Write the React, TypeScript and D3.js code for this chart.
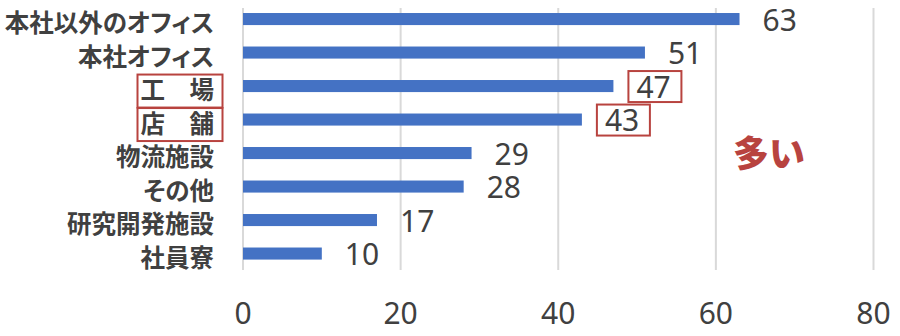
import React from "react";
import * as d3 from "d3";

const categories = ["本社以外のオフィス", "本社オフィス", "工　場", "店　舗", "物流施設", "その他", "研究開発施設", "社員寮"];
const values = [63, 51, 47, 43, 29, 28, 17, 10];
const highlighted = ["工　場", "店　舗"];
const xTicks = [0, 20, 40, 60, 80];
const annotation = "多い";

const W = 900;
const H = 336;

export default function App() {
  const x = d3.scaleLinear().domain([0, 80]).range([243, 873.5]);
  const y = d3.scaleBand<string>().domain(categories).range([2.3, 270.3]).paddingInner(0.64).paddingOuter(0.32);
  const numFont = "'Noto Sans', 'Open Sans', sans-serif";
  const jpFont = "'Noto Sans CJK JP', sans-serif";
  const red = "#b8433f";
  return (
    <svg width={W} height={H} style={{ position: "fixed", left: 0, top: 0, background: "#fff" }}>
      {xTicks.map((t) => (
        <line key={"g" + t} x1={x(t)} x2={x(t)} y1={8} y2={270} stroke="#d9d9d9" strokeWidth={2} />
      ))}
      {categories.map((c, i) => {
        const yc = (y(c) as number) + y.bandwidth() / 2;
        const isH = highlighted.includes(c);
        const lx = x(values[i]) + 23;
        return (
          <g key={c}>
            <rect x={x(0)} y={y(c)} width={x(values[i]) - x(0)} height={y.bandwidth()} fill="#4472C4" />
            <text
              x={214}
              y={yc + 4.5}
              dy="0.36em"
              textAnchor="end"
              fontFamily={jpFont}
              fontWeight={700}
              fontSize={24.5}
              fill="#404040"
              style={{ fontFeatureSettings: "'palt'" }}
            >
              {c}
            </text>
            {isH && <rect x={137.5} y={yc - 11.5} width={85} height={33} fill="none" stroke={red} strokeWidth={2} />}
            <text x={lx} y={yc + 1} dy="0.36em" fontFamily={numFont} fontSize={30} fill="#404040">
              {values[i]}
            </text>
            {isH && <rect x={lx - 8} y={yc - 15} width={53} height={31} fill="none" stroke={red} strokeWidth={2} />}
          </g>
        );
      })}
      {xTicks.map((t) => (
        <text key={"t" + t} x={x(t)} y={313} dy="0.36em" textAnchor="middle" fontFamily={numFont} fontSize={30} fill="#404040">
          {t}
        </text>
      ))}
      <text x={733} y={154} dy="0.36em" fontFamily={jpFont} fontWeight={900} fontSize={36} fill={red}>
        {annotation}
      </text>
    </svg>
  );
}
